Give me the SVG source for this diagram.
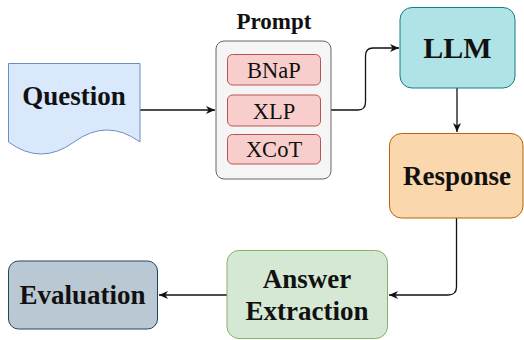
<svg xmlns="http://www.w3.org/2000/svg" width="524" height="340" viewBox="0 0 524 340">
  <style>
    .lbl { font-family: "Liberation Serif", "Times New Roman", serif; font-weight: bold; fill: #111; text-anchor: middle; }
    .opt { font-family: "Liberation Serif", "Times New Roman", serif; font-size: 22.5px; fill: #111; text-anchor: middle; }
    .edge { fill: none; stroke: #111; stroke-width: 1.3; marker-end: url(#arrow); }
    .item { fill: #f8cecc; stroke: #b85450; stroke-width: 1; }
  </style>
  <defs>
    <marker id="arrow" markerUnits="userSpaceOnUse" markerWidth="10" markerHeight="9" refX="9" refY="4.5" orient="auto">
      <path d="M0,0.5 L9,4.5 L0,8.5 L2.6,4.5 Z" fill="#111"/>
    </marker>
  </defs>
  <rect width="524" height="340" fill="#ffffff"/>

  <g id="edges">
    <path class="edge" d="M140,110 H215"/>
    <path class="edge" d="M331,110 H358 Q365.5,110 365.5,102 V56 Q365.5,48 373,48 H399"/>
    <path class="edge" d="M457,88 V132"/>
    <path class="edge" d="M456.5,218 V287 Q456.5,295 448,295 H389"/>
    <path class="edge" d="M227,295 H159"/>
  </g>

  <g id="question">
    <path d="M8.5,63.5 H140 V142 Q107,118 74,142 Q41,166 8.5,142 Z" fill="#dae8fc" stroke="#6c8ebf" stroke-width="1"/>
    <text class="lbl" x="74" y="105" font-size="27">Question</text>
  </g>

  <g id="prompt">
    <text class="lbl" x="274" y="29" font-size="23">Prompt</text>
    <rect x="216" y="41" width="115" height="138" rx="8" fill="#f5f5f5" stroke="#666666" stroke-width="1"/>
    <g id="bnap">
      <rect class="item" x="227.5" y="54.5" width="93" height="30.5" rx="5"/>
      <text class="opt" x="274" y="78">BNaP</text>
    </g>
    <g id="xlp">
      <rect class="item" x="227.5" y="95" width="93" height="31" rx="5"/>
      <text class="opt" x="274" y="118.5">XLP</text>
    </g>
    <g id="xcot">
      <rect class="item" x="227.5" y="134.5" width="93" height="29.5" rx="5"/>
      <text class="opt" x="274" y="157">XCoT</text>
    </g>
  </g>

  <g id="llm">
    <rect x="400" y="7.5" width="115" height="80.5" rx="12" fill="#b0e3e6" stroke="#0e8088" stroke-width="1"/>
    <text class="lbl" x="457.5" y="58" font-size="30">LLM</text>
  </g>

  <g id="response">
    <rect x="389.5" y="133.5" width="133.5" height="84.5" rx="12" fill="#fad7ac" stroke="#b46504" stroke-width="1"/>
    <text class="lbl" x="457" y="185" font-size="27">Response</text>
  </g>

  <g id="answer-extraction">
    <rect x="227" y="250.5" width="160.5" height="88" rx="12" fill="#d5e8d4" stroke="#82b366" stroke-width="1"/>
    <text class="lbl" x="307" y="288" font-size="27" fill="#1a1a1a">Answer</text>
    <text class="lbl" x="307" y="320" font-size="27" fill="#1a1a1a">Extraction</text>
  </g>

  <g id="evaluation">
    <rect x="8.5" y="261" width="149" height="68" rx="10" fill="#bac8d3" stroke="#23445d" stroke-width="1"/>
    <text class="lbl" x="82.5" y="303.5" font-size="27">Evaluation</text>
  </g>
</svg>
